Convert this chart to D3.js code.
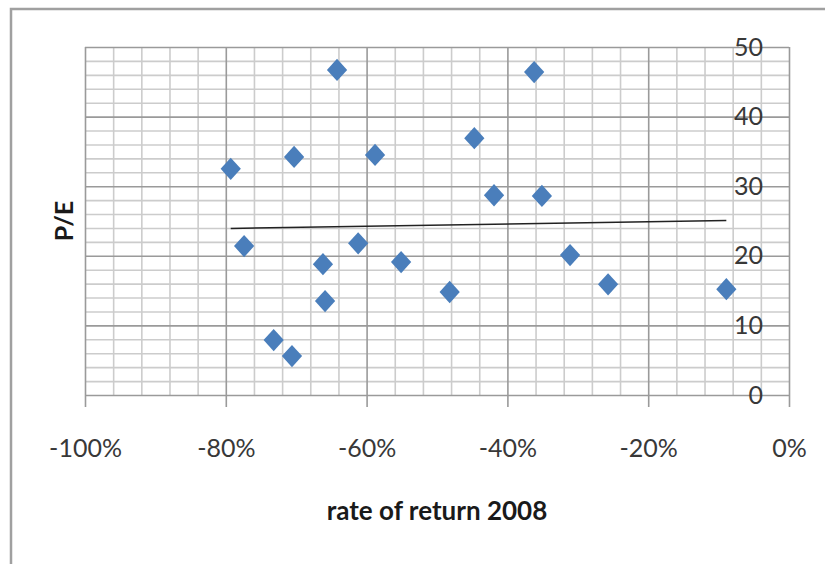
<!DOCTYPE html>
<html>
<head>
<meta charset="utf-8">
<script src="https://cdn.jsdelivr.net/npm/d3@7"></script>
<style>
  html, body { margin: 0; padding: 0; background: #fff; }
  svg { display: block; }
  text { font-family: Lato, "Open Sans", sans-serif; }
</style>
</head>
<body>
<svg id="chart" width="825" height="564"></svg>
<script>
// 2008 rate of return vs. P/E ratio
const returns2008 = [-0.793, -0.774, -0.732, -0.706, -0.703, -0.662, -0.659, -0.642, -0.612,
                     -0.588, -0.551, -0.482, -0.447, -0.419, -0.362, -0.351, -0.311, -0.257, -0.089];
const peRatios    = [32.5, 21.4, 7.9, 5.6, 34.2, 18.8, 13.5, 46.7, 21.8,
                     34.5, 19.1, 14.8, 36.9, 28.7, 46.4, 28.6, 20.1, 15.9, 15.2];

const xTickValues = [-1, -0.8, -0.6, -0.4, -0.2, 0];
const xTickLabels = ["-100%", "-80%", "-60%", "-40%", "-20%", "0%"];
const yTickValues = [0, 10, 20, 30, 40, 50];
const yTickLabels = ["0", "10", "20", "30", "40", "50"];

const xTitle = "rate of return 2008";
const yTitle = "P/E";

const svg = d3.select("#chart");
const plot = { left: 85, right: 789, top: 47, bottom: 395 };
const plotW = plot.right - plot.left, plotH = plot.bottom - plot.top;

const x = d3.scaleLinear().domain([-1, 0]).range([plot.left, plot.right]);
const y = d3.scaleLinear().domain([0, 50]).range([plot.bottom, plot.top]);

// chart area frame (runs off the right and bottom edges)
svg.append("path")
  .attr("d", "M11,566 L11,9 L827,9")
  .attr("fill", "none").attr("stroke", "#a0a0a0").attr("stroke-width", 2.5);

// minor gridlines
const xMinor = d3.range(-1, 0.0001, 0.04).filter(v => Math.abs(v * 5 - Math.round(v * 5)) > 1e-6);
const yMinor = d3.range(0, 50.001, 2).filter(v => v % 10 !== 0);

function styleGrid(g, color, w) {
  g.select(".domain").remove();
  g.selectAll(".tick line").attr("stroke", color).attr("stroke-width", w);
  g.selectAll(".tick text").remove();
}

svg.append("g")
  .attr("transform", `translate(0,${plot.bottom})`)
  .call(d3.axisBottom(x).tickValues(xMinor).tickSize(-plotH).tickFormat(""))
  .call(g => styleGrid(g, "#cccccc", 1.6));
svg.append("g")
  .attr("transform", `translate(${plot.left},0)`)
  .call(d3.axisLeft(y).tickValues(yMinor).tickSize(-plotW).tickFormat(""))
  .call(g => styleGrid(g, "#cccccc", 1.6));

// major gridlines (vertical ones carry the tick marks below the axis)
svg.append("g")
  .attr("transform", `translate(0,${plot.bottom + 12})`)
  .call(d3.axisBottom(x).tickValues(xTickValues).tickSize(-(plotH + 12)).tickFormat(""))
  .call(g => styleGrid(g, "#9a9a9a", 1.6));
svg.append("g")
  .attr("transform", `translate(${plot.left},0)`)
  .call(d3.axisLeft(y).tickValues(yTickValues).tickSize(-plotW).tickFormat(""))
  .call(g => styleGrid(g, "#9a9a9a", 1.6));

// x tick labels
svg.append("g")
  .attr("transform", `translate(0,${plot.bottom})`)
  .call(d3.axisBottom(x).tickValues(xTickValues).tickSize(0).tickPadding(44)
        .tickFormat((d, i) => xTickLabels[i]))
  .call(g => {
    g.select(".domain").remove();
    g.selectAll(".tick text").attr("font-size", 25).attr("fill", "#383838")
      .attr("font-family", "Lato, 'Open Sans', sans-serif");
  });

// y tick labels, right-aligned inside the plot near the right edge
svg.append("g")
  .attr("transform", `translate(763,0)`)
  .call(d3.axisLeft(y).tickValues(yTickValues).tickSize(0).tickPadding(0)
        .tickFormat((d, i) => yTickLabels[i]))
  .call(g => {
    g.select(".domain").remove();
    g.selectAll(".tick text").attr("font-size", 25).attr("fill", "#383838")
      .attr("font-family", "Lato, 'Open Sans', sans-serif");
  });

// linear trendline (least squares)
const n = returns2008.length;
const mx = d3.mean(returns2008), my = d3.mean(peRatios);
let sxy = 0, sxx = 0;
for (let i = 0; i < n; i++) {
  sxy += (returns2008[i] - mx) * (peRatios[i] - my);
  sxx += (returns2008[i] - mx) ** 2;
}
const slope = sxy / sxx, intercept = my - slope * mx;
const [xmin, xmax] = d3.extent(returns2008);
svg.append("line")
  .attr("x1", x(xmin)).attr("y1", y(intercept + slope * xmin))
  .attr("x2", x(xmax)).attr("y2", y(intercept + slope * xmax))
  .attr("stroke", "#222").attr("stroke-width", 1.5);

// diamond markers
const diamond = d3.symbol(d3.symbolSquare, 205);
svg.append("g").selectAll("path")
  .data(returns2008.map((r, i) => [r, peRatios[i]]))
  .join("path")
  .attr("d", diamond)
  .attr("transform", d => `translate(${x(d[0])},${y(d[1])}) scale(1,1.1) rotate(45)`)
  .attr("fill", "#4a7ebb");

// axis titles
svg.append("text")
  .attr("x", (plot.left + plot.right) / 2).attr("y", 520)
  .attr("text-anchor", "middle")
  .attr("font-size", 26).attr("font-weight", "bold").attr("fill", "#1a1a1a")
  .text(xTitle);

svg.append("text")
  .attr("transform", `translate(73,${(plot.top + plot.bottom) / 2}) rotate(-90)`)
  .attr("text-anchor", "middle")
  .attr("font-size", 25).attr("font-weight", "bold").attr("fill", "#1a1a1a")
  .text(yTitle);
</script>
</body>
</html>
